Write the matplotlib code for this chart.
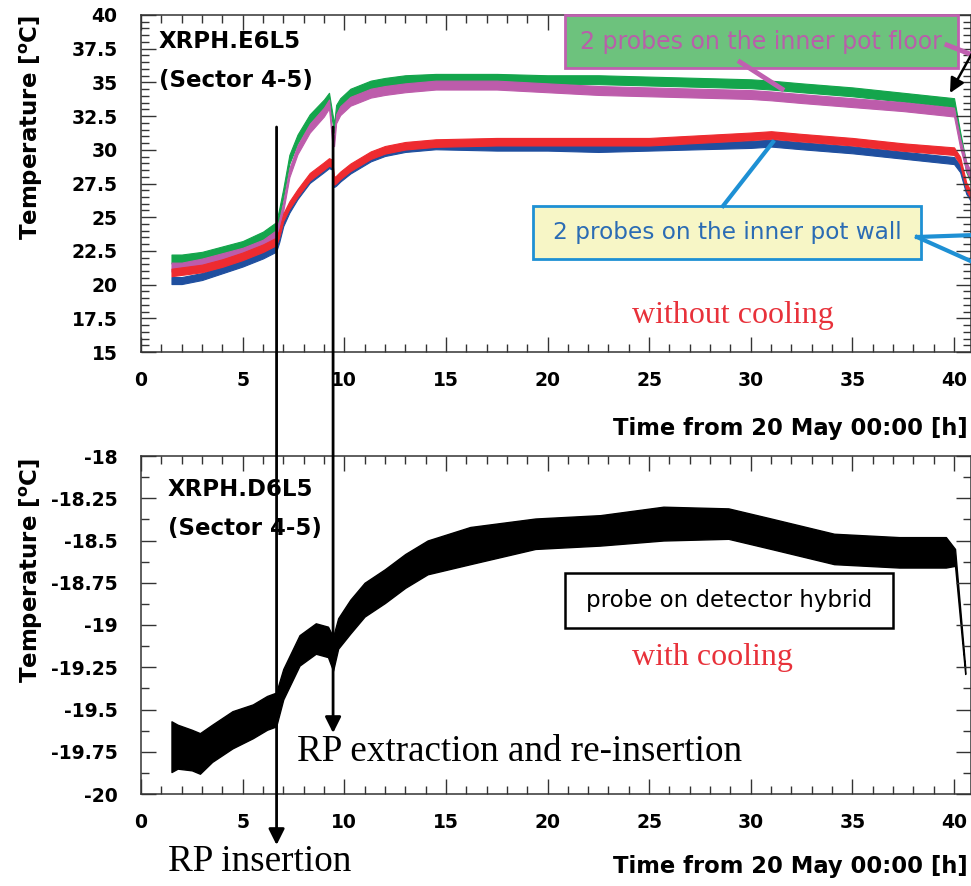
import matplotlib
matplotlib.use("Agg")
import matplotlib.pyplot as plt
import numpy as np
from matplotlib.patches import Rectangle, ConnectionPatch
from matplotlib.ticker import MultipleLocator, FormatStrFormatter
from matplotlib.lines import Line2D

plt.rcParams['axes.unicode_minus'] = False
plt.rcParams['font.family'] = ['DejaVu Sans']

# ---------------- data ----------------
# top panel: XRPH.E6L5, without cooling
t_top = [1.5, 2.0, 3.0, 4.0, 5.0, 6.0, 6.65, 6.8, 7.0, 7.3, 7.7, 8.3, 9.0, 9.25, 9.4,
         9.5, 9.6, 9.8, 10.3, 11.3, 12.0, 13.0, 14.5, 17.5, 20.0, 22.5, 25.0, 27.5,
         30.0, 31.0, 32.5, 35.0, 37.5, 40.0, 40.3, 40.6, 40.85]
floor_probe_1 = [21.9, 21.9, 22.1, 22.5, 22.9, 23.6, 24.3, 25.3, 26.8, 29.3, 30.8, 32.3, 33.4, 33.9, 32.5,
                 31.6, 33.0, 33.5, 34.2, 34.8, 35.0, 35.2, 35.3, 35.3, 35.2, 35.2, 35.1, 35.0,
                 34.9, 34.8, 34.6, 34.3, 33.9, 33.5, 31.0, 28.7, 27.8]
floor_probe_2 = [21.3, 21.3, 21.6, 22.0, 22.4, 23.0, 23.7, 24.5, 25.8, 28.3, 30.0, 31.6, 32.8, 33.4, 31.0,
                 30.6, 32.3, 32.9, 33.6, 34.2, 34.4, 34.6, 34.8, 34.8, 34.6, 34.4, 34.3, 34.2,
                 34.1, 34.0, 33.8, 33.5, 33.2, 32.8, 30.5, 28.8, 28.0]
wall_probe_1 = [20.9, 21.0, 21.2, 21.6, 22.1, 22.7, 23.2, 23.8, 25.0, 25.9, 26.8, 28.0, 28.8, 29.1, 29.0,
                27.7, 27.8, 28.1, 28.7, 29.6, 30.0, 30.3, 30.5, 30.6, 30.6, 30.6, 30.6, 30.8,
                31.0, 31.1, 30.9, 30.6, 30.2, 29.9, 29.2, 27.3, 26.6]
wall_probe_2 = [20.3, 20.3, 20.6, 21.1, 21.6, 22.2, 22.7, 23.4, 24.6, 25.6, 26.6, 27.8, 28.6, 28.9, 28.8,
                27.5, 27.6, 27.9, 28.5, 29.4, 29.8, 30.1, 30.3, 30.2, 30.2, 30.1, 30.2, 30.3,
                30.4, 30.5, 30.3, 30.0, 29.6, 29.2, 28.6, 27.0, 26.4]
# half-width of the noise band of each top series [deg C]
spread_top = [0.33, 0.33, 0.28, 0.26]

# bottom panel: XRPH.D6L5, with cooling
t_bot = [1.5, 1.8, 2.5, 2.9, 3.5, 4.5, 5.5, 6.2, 6.65, 7.0, 7.8, 8.6, 9.2, 9.45, 9.7,
         10.3, 11.0, 12.0, 13.0, 14.1, 16.2, 19.4, 22.6, 25.7, 28.9, 31.0, 34.1, 37.3,
         39.6, 40.05, 40.55]
hybrid_probe = [-19.72, -19.72, -19.74, -19.76, -19.70, -19.62, -19.57, -19.52, -19.50, -19.35,
                -19.15, -19.08, -19.10, -19.17, -19.05, -18.95, -18.85, -18.77, -18.68, -18.60,
                -18.53, -18.46, -18.44, -18.40, -18.40, -18.46, -18.55, -18.57, -18.57, -18.60,
                -19.27]
hybrid_spread = [0.15, 0.13, 0.12, 0.12, 0.11, 0.11, 0.10, 0.10, 0.10, 0.09,
                 0.09, 0.09, 0.09, 0.10, 0.09, 0.10, 0.10, 0.10, 0.10, 0.10,
                 0.11, 0.09, 0.09, 0.10, 0.09, 0.09, 0.09, 0.09, 0.09, 0.05,
                 0.02]

x_ticks = [0, 5, 10, 15, 20, 25, 30, 35, 40]
insertion_time = 6.67
extraction_time = 9.45

# ---------------- figure ----------------
W, H = 971, 886
fig = plt.figure(figsize=(W / 100, H / 100), dpi=100)
ax1 = fig.add_axes([141 / W, (H - 352) / H, 830.3 / W, 337 / H])
ax2 = fig.add_axes([141 / W, (H - 794) / H, 830.3 / W, 338 / H])

tick_fs = 13.5
for ax in (ax1, ax2):
    ax.set_xlim(0, 40.85)
    ax.set_xticks(x_ticks)
    ax.xaxis.set_minor_locator(MultipleLocator(1))
    ax.tick_params(which='both', direction='in', top=True, right=True,
                   width=1.0, color='#333333')
    ax.tick_params(which='major', length=10.8)
    ax.tick_params(which='minor', length=5.5)
    ax.tick_params(axis='x', which='major', pad=14, labelsize=tick_fs)
    ax.tick_params(axis='y', which='major', pad=17, labelsize=tick_fs)
    for s in ax.spines.values():
        s.set_linewidth(1.1)
        s.set_color('#333333')

ax1.set_ylim(15, 40)
ax1.yaxis.set_major_locator(MultipleLocator(2.5))
ax1.yaxis.set_minor_locator(MultipleLocator(0.5))
ax1.yaxis.set_major_formatter(FormatStrFormatter('%g'))
ax2.set_ylim(-20, -18)
ax2.yaxis.set_major_locator(MultipleLocator(0.25))
ax2.yaxis.set_minor_locator(MultipleLocator(0.125))
ax2.yaxis.set_major_formatter(FormatStrFormatter('%g'))
for ax in (ax1, ax2):
    for lab in ax.get_xticklabels() + ax.get_yticklabels():
        lab.set_fontweight('bold')

# series (noise bands)
colors_top = ['#14a54c', '#bd5cab', '#1f4f9f', '#ee2b30']
series_top = [floor_probe_1, floor_probe_2, wall_probe_2, wall_probe_1]
spreads = [spread_top[0], spread_top[1], spread_top[3], spread_top[2]]
t_arr = np.array(t_top)
for vals, c, sp in zip(series_top, colors_top, spreads):
    v = np.array(vals)
    ax1.fill_between(t_arr, v - sp, v + sp, color=c, lw=0.8, ec=c)

tb = np.array(t_bot)
hb = np.array(hybrid_probe)
hs = np.array(hybrid_spread)
ax2.fill_between(tb, hb - hs, hb + hs, color='black', lw=1.0, ec='black')

# axis labels
ylab = r'Temperature [$^{\mathbf{o}}$C]'
fig.text(31 / W, (H - 15) / H, ylab, rotation=90, ha='center', va='top',
         fontsize=16.5, fontweight='bold')
fig.text(31 / W, (H - 458) / H, ylab, rotation=90, ha='center', va='top',
         fontsize=16.5, fontweight='bold')
xlab = 'Time from 20 May 00:00 [h]'
fig.text(968 / W, (H - 428) / H, xlab, ha='right', va='center',
         fontsize=16.3, fontweight='bold')
fig.text(968 / W, (H - 866) / H, xlab, ha='right', va='center',
         fontsize=16.3, fontweight='bold')

# panel titles
fig.text(159 / W, (H - 42) / H, 'XRPH.E6L5', ha='left', va='center', fontsize=16.5, fontweight='bold')
fig.text(159 / W, (H - 80) / H, '(Sector 4-5)', ha='left', va='center', fontsize=16.5, fontweight='bold')
fig.text(168 / W, (H - 489) / H, 'XRPH.D6L5', ha='left', va='center', fontsize=16.5, fontweight='bold')
fig.text(168 / W, (H - 529) / H, '(Sector 4-5)', ha='left', va='center', fontsize=16.5, fontweight='bold')

# helper: pixel -> figure fraction
def fp(x, y):
    return (x / W, (H - y) / H)

tf = fig.transFigure
# green callout box (floor probes)
fig.add_artist(Rectangle(fp(565, 68), 393 / W, 53 / H, transform=tf,
                         facecolor='#6dc27d', edgecolor='#c060b0', lw=2, zorder=5))
fig.text(*fp(761, 42), '2 probes on the inner pot floor', ha='center', va='center',
         fontsize=17, color='#b85fa9', zorder=6)
fig.add_artist(Line2D([740 / W, 782 / W], [(H - 62) / H, (H - 89) / H], transform=tf,
                      color='#c060b0', lw=3.5, zorder=6))
fig.add_artist(Line2D([947 / W, 975 / W], [(H - 45) / H, (H - 56) / H], transform=tf,
                      color='#c060b0', lw=3.5, zorder=6))
fig.add_artist(ConnectionPatch(xyA=fp(985, 30), coordsA=tf, xyB=fp(950, 93), coordsB=tf,
                               arrowstyle='-|>', mutation_scale=22, lw=1.8, color='black',
                               shrinkA=0, shrinkB=0, zorder=7))

# yellow callout box (wall probes)
fig.add_artist(Rectangle(fp(533, 259), 388 / W, 53 / H, transform=tf,
                         facecolor='#f7f6c6', edgecolor='#1e90d4', lw=2, zorder=5))
fig.text(*fp(727, 233), '2 probes on the inner pot wall', ha='center', va='center',
         fontsize=16.7, color='#2b6cb4', zorder=6)
fig.add_artist(Line2D([723 / W, 773 / W], [(H - 206) / H, (H - 142) / H], transform=tf,
                      color='#1e90d4', lw=3, zorder=6))
fig.add_artist(Line2D([917 / W, 975 / W], [(H - 237) / H, (H - 235) / H], transform=tf,
                      color='#1e90d4', lw=3, zorder=6))
fig.add_artist(Line2D([917 / W, 975 / W], [(H - 237) / H, (H - 263) / H], transform=tf,
                      color='#1e90d4', lw=3, zorder=6))

# probe on detector hybrid box
fig.add_artist(Rectangle(fp(565, 628), 328 / W, 55 / H, transform=tf,
                         facecolor='white', edgecolor='black', lw=1.8, zorder=5))
fig.text(*fp(729, 601), 'probe on detector hybrid', ha='center', va='center',
         fontsize=16.5, color='black', zorder=6)

# red notes
fig.text(*fp(733, 316), 'without cooling', ha='center', va='center', fontsize=23,
         color='#e8313a', family='Liberation Serif')
fig.text(*fp(712, 658), 'with cooling', ha='center', va='center', fontsize=23,
         color='#e8313a', family='Liberation Serif')

# RP insertion / extraction arrows spanning both panels
tip_ins = -18 - (845 - 456) / 169
tip_ext = -18 - (733 - 456) / 169
start_T = 15 + (352 - 127) / 13.48
for tx, tip in ((insertion_time, tip_ins), (extraction_time, tip_ext)):
    fig.add_artist(ConnectionPatch(xyA=(tx, start_T), coordsA=ax1.transData,
                                   xyB=(tx, tip), coordsB=ax2.transData,
                                   arrowstyle='-|>', mutation_scale=24, lw=2.0,
                                   color='black', shrinkA=0, shrinkB=0, zorder=8))

fig.text(*fp(520, 752), 'RP extraction and re-insertion', ha='center', va='center',
         fontsize=26.7, color='black', family='Liberation Serif')
fig.text(*fp(260, 862), 'RP insertion', ha='center', va='center',
         fontsize=26.7, color='black', family='Liberation Serif')

fig.savefig('out.png', dpi=100)
